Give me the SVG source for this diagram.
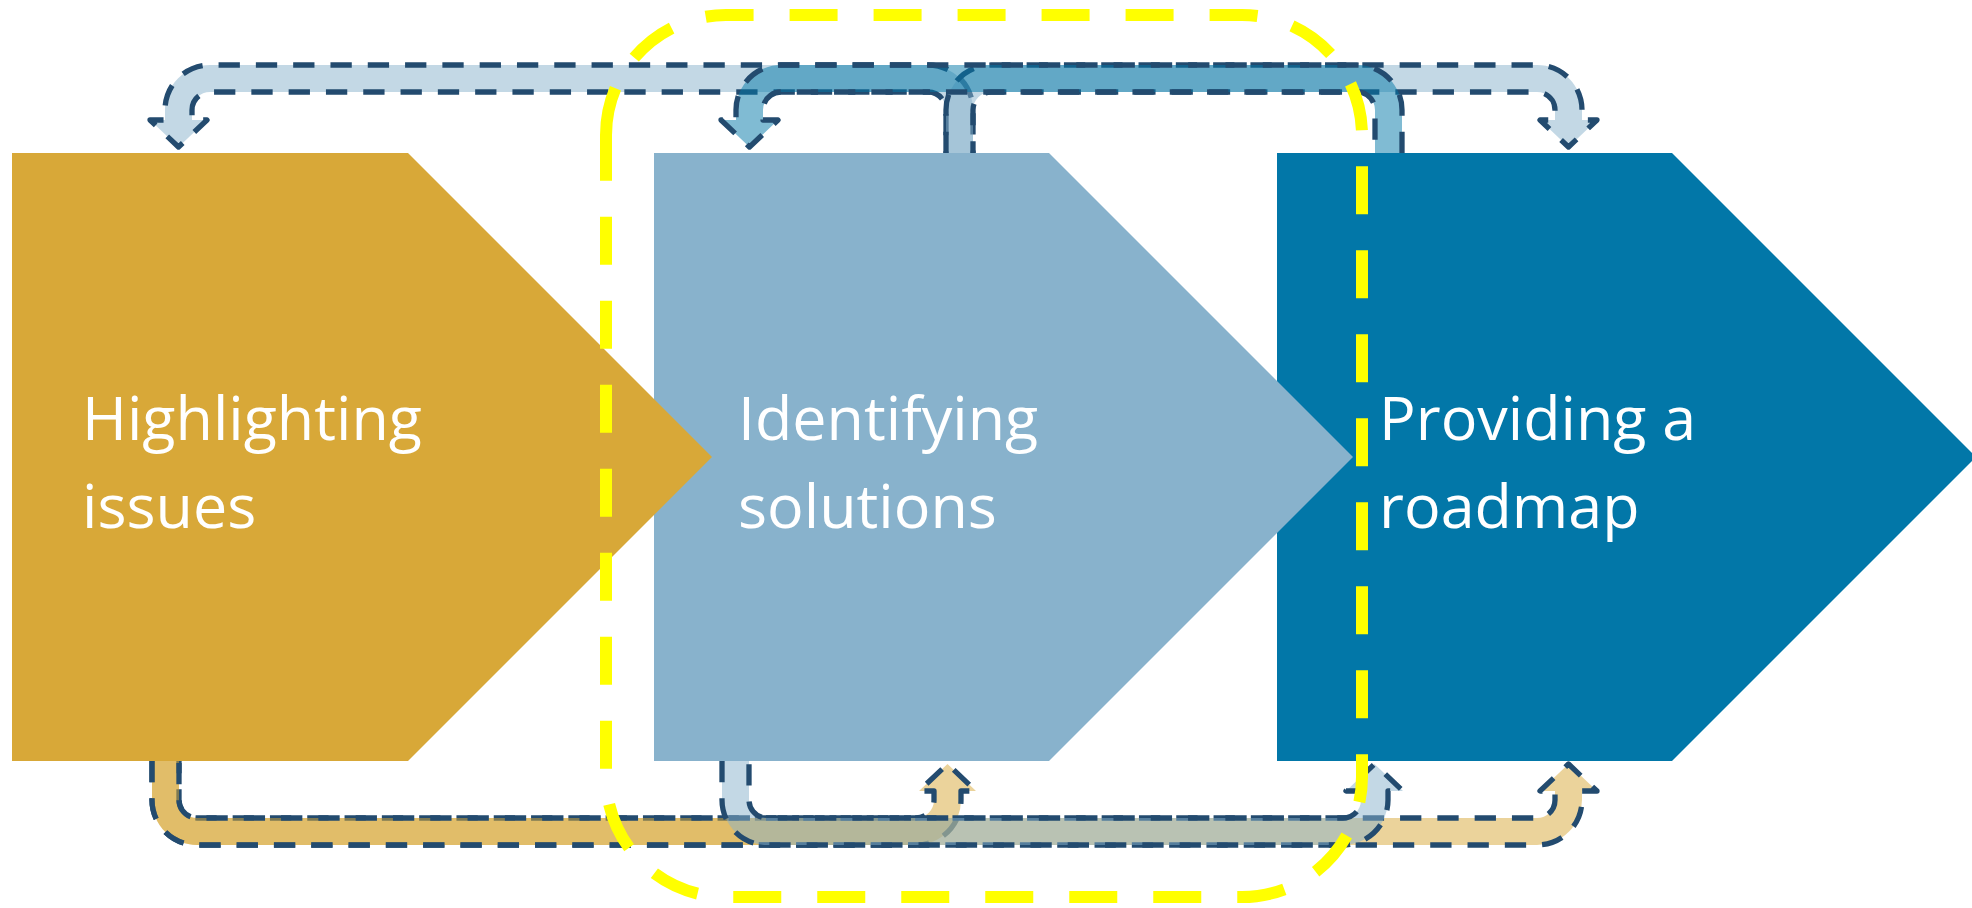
<svg xmlns="http://www.w3.org/2000/svg" width="1972" height="908" viewBox="0 0 1972 908">
<style>
.lbl{font-family:"Open Sans","Noto Sans","Liberation Sans",sans-serif;font-size:61px;fill:#ffffff}
.conn{stroke:#234B6F;stroke-width:5.3;stroke-dasharray:21.3 16;stroke-linejoin:round}
.pale{fill:#88B2CC;fill-opacity:0.5}
.deep{fill:#0277A8;fill-opacity:0.5}
.gold{fill:#D8A838;fill-opacity:0.5}
.frame{fill:none;stroke:#FFFF00;stroke-width:12;stroke-dasharray:48 36}
</style>
<rect width="1972" height="908" fill="#ffffff"/>
<g id="node-providing">
<polygon points="1277,153 1672,153 1976,457 1672,761 1277,761" fill="#0277A8"/>
<text class="lbl" x="1379" y="440">Providing a</text>
<text class="lbl" x="1379" y="528">roadmap</text>
</g>
<g id="node-identifying">
<polygon points="654,153 1049,153 1353,457 1049,761 654,761" fill="#88B2CC"/>
<text class="lbl" x="738" y="440">Identifying</text>
<text class="lbl" x="738" y="528">solutions</text>
</g>
<g id="node-highlighting">
<polygon points="12,153 408,153 712,457 408,761 12,761" fill="#D8A838"/>
<text class="lbl" x="82" y="440">Highlighting</text>
<text class="lbl" x="82" y="528">issues</text>
</g>
<g id="connectors">
<path id="c-identify-highlight" class="conn pale" stroke-dashoffset="18.9" d="M 973 153 L 973 110 A 45 45 0 0 0 928 65 L 210 65 A 45 45 0 0 0 165 110 L 165 120 L 150 120 L 178.5 147 L 207 120 L 192 120 L 192 110 A 18 18 0 0 1 210 92 L 928 92 A 18 18 0 0 1 946 110 L 946 153"/>
<path id="c-identify-provide-top" class="conn pale" d="M 946 153 L 946 110 A 45 45 0 0 1 991 65 L 1537 65 A 45 45 0 0 1 1582 110 L 1582 120 L 1597 120 L 1568.5 147 L 1540 120 L 1555 120 L 1555 110 A 18 18 0 0 0 1537 92 L 991 92 A 18 18 0 0 0 973 110 L 973 153"/>
<path id="c-provide-identify" class="conn deep" d="M 1402 153 L 1402 110 A 45 45 0 0 0 1357 65 L 781 65 A 45 45 0 0 0 736 110 L 736 120 L 721 120 L 749.5 147 L 778 120 L 763 120 L 763 110 A 18 18 0 0 1 781 92 L 1357 92 A 18 18 0 0 1 1375 110 L 1375 153"/>
<path id="c-highlight-identify" class="conn gold" d="M 152 761 L 152 800 A 45 45 0 0 0 197 845 L 916 845 A 45 45 0 0 0 961 800 L 961 791 L 976 791 L 947.5 764 L 919 791 L 934 791 L 934 800 A 18 18 0 0 1 916 818 L 197 818 A 18 18 0 0 1 179 800 L 179 761"/>
<path id="c-highlight-provide" class="conn gold" d="M 152 761 L 152 800 A 45 45 0 0 0 197 845 L 1537 845 A 45 45 0 0 0 1582 800 L 1582 791 L 1597 791 L 1568.5 764 L 1540 791 L 1555 791 L 1555 800 A 18 18 0 0 1 1537 818 L 197 818 A 18 18 0 0 1 179 800 L 179 761"/>
<path id="c-identify-provide-bottom" class="conn pale" d="M 722 761 L 722 800 A 45 45 0 0 0 767 845 L 1343 845 A 45 45 0 0 0 1388 800 L 1388 791 L 1403 791 L 1374.5 764 L 1346 791 L 1361 791 L 1361 800 A 18 18 0 0 1 1343 818 L 767 818 A 18 18 0 0 1 749 800 L 749 761"/>
</g>
<g id="group-frame">
<path class="frame" d="M 606 135 A 120 120 0 0 1 726 15 L 1242 15 A 120 120 0 0 1 1362 135 L 1362 777 A 120 120 0 0 1 1242 897 L 726 897 A 120 120 0 0 1 606 777 Z"/>
</g>
</svg>
